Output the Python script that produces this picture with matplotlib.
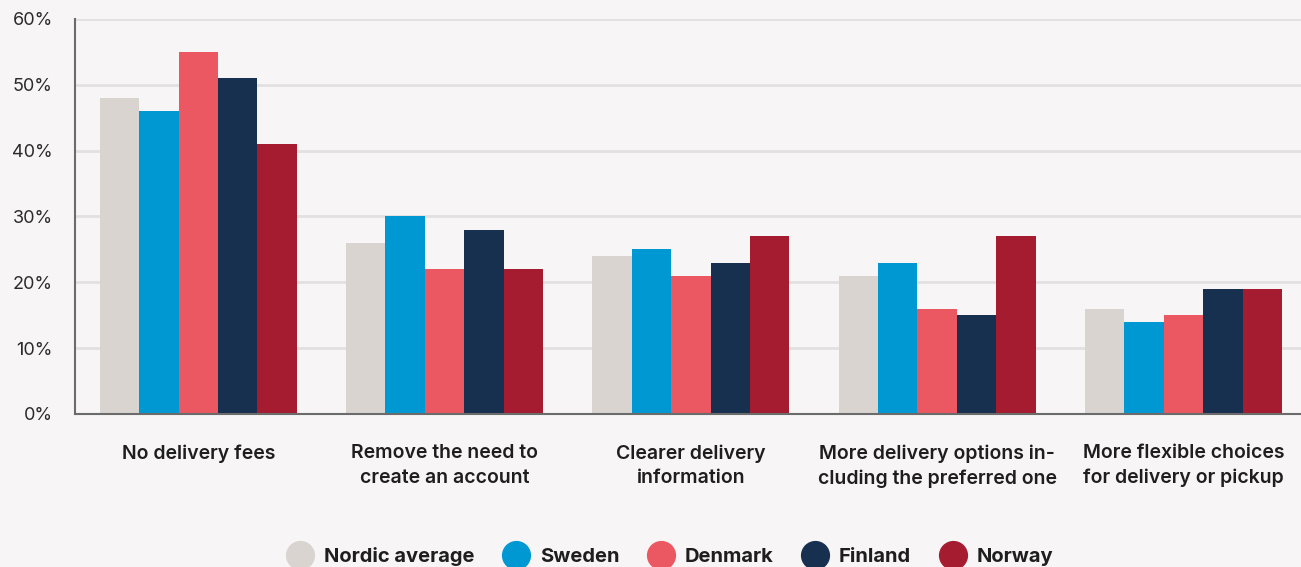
import numpy as np
import matplotlib.pyplot as plt
from matplotlib.lines import Line2D

plt.rcParams['font.family'] = ['Inter', 'DejaVu Sans']

categories = ['No delivery fees',
              'Remove the need to\ncreate an account',
              'Clearer delivery\ninformation',
              'More delivery options in-\ncluding the preferred one',
              'More flexible choices\nfor delivery or pickup']
series = ['Nordic average', 'Sweden', 'Denmark', 'Finland', 'Norway']
nordic = [48, 26, 24, 21, 16]
sweden = [46, 30, 25, 23, 14]
denmark = [55, 22, 21, 16, 15]
finland = [51, 28, 23, 15, 19]
norway = [41, 22, 27, 27, 19]
yticks = [0, 10, 20, 30, 40, 50, 60]

values = [nordic, sweden, denmark, finland, norway]
colors = ['#d9d4d0', '#0098d2', '#eb5862', '#17304f', '#a51c31']
bg = '#f7f5f6'

fig = plt.figure(figsize=(13.01, 5.67), dpi=100, facecolor=bg)
ax = fig.add_axes([0.0577, 0.270, 0.9423, 0.6965], facecolor=bg)

x = np.arange(len(categories))
w = 0.16
for i, (vals, c) in enumerate(zip(values, colors)):
    ax.bar(x + (i - 2) * w, vals, w, color=c, zorder=3)

ax.set_xlim(-0.5, 4.477)
ax.set_ylim(0, 60)
ax.set_yticks(yticks)
ax.set_yticklabels([f'{v}%' for v in yticks], fontsize=13, color='#2b2b2b')
ax.set_xticks(x)
ax.set_xticklabels(categories, fontsize=14, fontweight='semibold',
                   color='#1e1e1e', linespacing=1.45)
ax.tick_params(axis='x', length=0, pad=22)
ax.tick_params(axis='y', length=0, pad=16)
ax.grid(axis='y', color='#e2e0e0', linewidth=2, zorder=0)
for s in ['top', 'right']:
    ax.spines[s].set_visible(False)
for s in ['left', 'bottom']:
    ax.spines[s].set_color('#6b6b6b')
    ax.spines[s].set_linewidth(1.5)
    ax.spines[s].set_zorder(4)

handles = [Line2D([], [], linestyle='none', marker='o', markersize=20,
                  markerfacecolor=c, markeredgecolor=c) for c in colors]
leg = fig.legend(handles, series, loc='lower center', ncol=5, frameon=False,
                 bbox_to_anchor=(0.515, -0.03), prop={'size': 14.5, 'weight': 'bold'},
                 handletextpad=0.55, columnspacing=1.4, handlelength=1.3)
for t in leg.get_texts():
    t.set_color('#1e1e1e')

plt.savefig('out.png', facecolor=bg)
